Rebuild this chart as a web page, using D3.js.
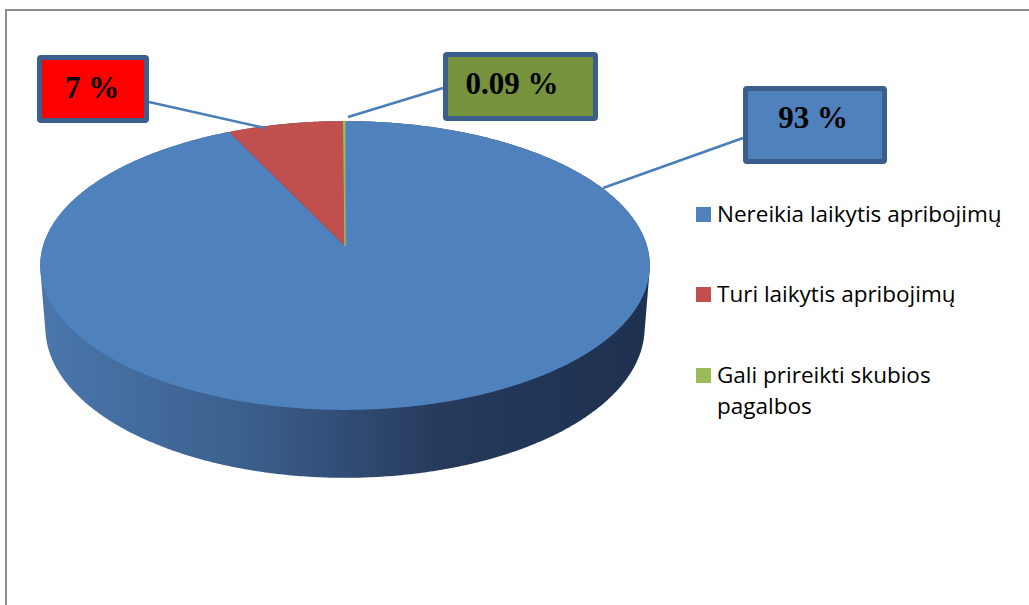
<!DOCTYPE html>
<html>
<head>
<meta charset="utf-8">
<script src="https://cdn.jsdelivr.net/npm/d3@7/dist/d3.min.js"></script>
<style>
  html, body { margin: 0; padding: 0; background: #ffffff; }
  svg { display: block; }
</style>
</head>
<body>
<svg id="chart" width="1029" height="605"></svg>
<script>
// ---- data ----
const categories = ["Nereikia laikytis apribojimų", "Turi laikytis apribojimų", "Gali prireikti skubios pagalbos"];
const values = [93, 7, 0.09];
const valueLabels = ["93 %", "7 %", "0.09 %"];
const legendLines = [["Nereikia laikytis apribojimų"], ["Turi laikytis apribojimų"], ["Gali prireikti skubios", "pagalbos"]];
const sliceColors = ["#4F81BD", "#C0504D", "#9BBB59"];
const boxFills = ["#4F81BD", "#FF0000", "#76923C"];

// ---- layout ----
const W = 1029, H = 605;
const svg = d3.select("#chart");

// frame
svg.append("rect").attr("x", 6).attr("y", 10).attr("width", W + 10).attr("height", H + 10)
  .attr("fill", "none").attr("stroke", "#8C8C8C").attr("stroke-width", 2);

// perspective pie
const cx = 345, cy = 246;
const tilt = 28 * Math.PI / 180, sT = Math.sin(tilt), cT = Math.cos(tilt);
const Dcam = 6.54, focal = 1975, thick = 0.235;
function proj(a, r, depth) {
  const u = r * Math.sin(a), v = -r * Math.cos(a);
  const X = u, Y = v * sT + depth * cT, Z = Dcam - v * cT + depth * sT;
  return [cx + focal * X / Z, cy + focal * Y / Z];
}

const pie = d3.pie().sort(null).startAngle(0).endAngle(2 * Math.PI);
const arcs = pie(values);

// gradient for side
const defs = svg.append("defs");
const grad = defs.append("linearGradient").attr("id", "sideGrad")
  .attr("gradientUnits", "userSpaceOnUse")
  .attr("x1", proj(-Math.PI / 2, 1, 0)[0]).attr("x2", proj(Math.PI / 2, 1, 0)[0])
  .attr("y1", 0).attr("y2", 0);
[[0, "#4A76AC"], [0.34, "#3B5F8D"], [0.67, "#25395B"], [1, "#1E3150"]].forEach(([o, c]) =>
  grad.append("stop").attr("offset", o).attr("stop-color", c));

// side = hull of top and bottom rims
const N = 720;
const rimPts = [];
for (let i = 0; i < N; i++) {
  const a = i / N * 2 * Math.PI;
  rimPts.push(proj(a, 1, 0));
  rimPts.push(proj(a, 1, thick));
}
const hull = d3.polygonHull(rimPts);
svg.append("path").attr("d", "M" + hull.map(p => p.join(",")).join("L") + "Z")
  .attr("fill", "url(#sideGrad)");

// top face slices
const line = d3.line();
function slicePts(d) {
  const pts = [proj(0, 0, 0)];
  const steps = Math.max(2, Math.ceil((d.endAngle - d.startAngle) / (Math.PI / 360)));
  for (let i = 0; i <= steps; i++) {
    const a = d.startAngle + (d.endAngle - d.startAngle) * i / steps;
    pts.push(proj(a, 1, 0));
  }
  return pts;
}
svg.append("g").selectAll("path").data(arcs).join("path")
  .attr("d", d => line(slicePts(d)) + "Z")
  .attr("fill", (d, i) => sliceColors[i])
  .attr("stroke", (d, i) => i === 2 ? sliceColors[i] : "none")
  .attr("stroke-width", 1);

// data label boxes and leader lines
const boxes = [
  { x: 743, y: 86, w: 144, h: 78, tx: 813, ty: 128, lead: [[603, 188], [743, 138]] },
  { x: 37, y: 55, w: 112, h: 68, tx: 92, ty: 98, lead: [[265, 128], [149, 102]] },
  { x: 443, y: 52, w: 155, h: 69, tx: 512, ty: 94, lead: [[348, 117], [443, 88]] }
];
const lblG = svg.append("g");
boxes.forEach((b, i) => {
  lblG.append("path").attr("d", line(b.lead)).attr("stroke", "#4A7EBB")
    .attr("stroke-width", 2.5).attr("fill", "none");
});
boxes.forEach((b, i) => {
  lblG.append("rect").attr("x", b.x + 2.5).attr("y", b.y + 2.5)
    .attr("width", b.w - 5).attr("height", b.h - 5).attr("rx", 1.5)
    .attr("fill", boxFills[i]).attr("stroke", "#3B5E8C").attr("stroke-width", 5);
  lblG.append("text").attr("x", b.tx).attr("y", b.ty).attr("text-anchor", "middle")
    .attr("font-family", "'Liberation Serif', 'Times New Roman', serif")
    .attr("font-weight", "bold").attr("font-size", 31).attr("fill", "#000")
    .text(valueLabels[i]);
});

// legend
const legY = [222, 302, 383];
const leg = svg.append("g");
categories.forEach((c, i) => {
  leg.append("rect").attr("x", 696).attr("y", legY[i] - 15).attr("width", 15).attr("height", 15)
    .attr("fill", sliceColors[i]);
  legendLines[i].forEach((t, j) => {
    leg.append("text").attr("x", 717).attr("y", legY[i] + j * 31)
      .attr("font-family", "'Open Sans', sans-serif").attr("font-size", 22.5)
      .attr("fill", "#000").text(t);
  });
});
</script>
</body>
</html>
